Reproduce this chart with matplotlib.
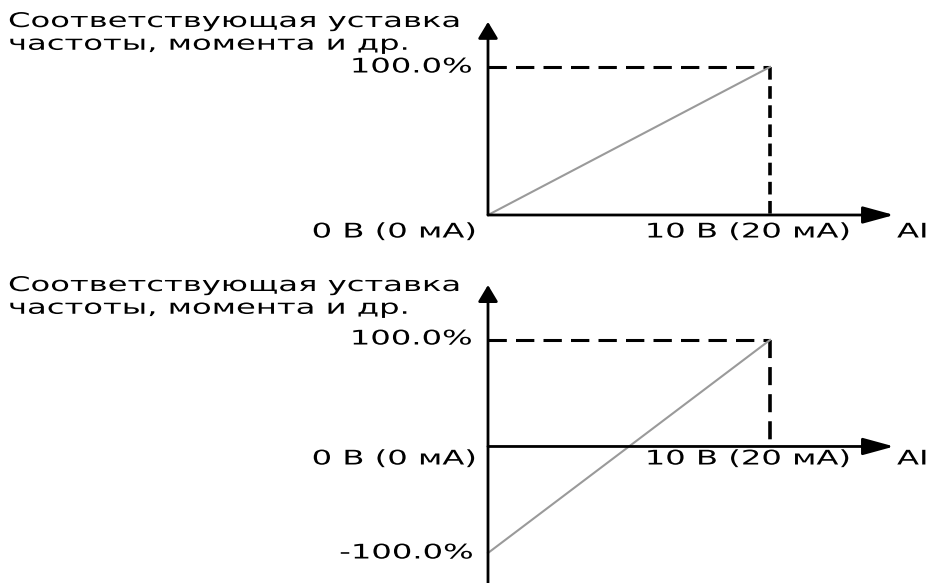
import matplotlib.pyplot as plt
from matplotlib.patheffects import AbstractPathEffect
from matplotlib.transforms import Affine2D

# input AI (0..10 V) vs. setpoint (%)
ai_in = [0, 10]
set_top = [0, 100]
set_bottom = [-100, 100]

title_text = 'Соответствующая уставка\nчастоты, момента и др.'
lbl_zero = '0 В (0 мА)'
lbl_max = '10 В (20 мА)'
lbl_axis = 'AI'

plt.rcParams['font.family'] = ['DejaVu Sans']
FS = 14.5
SX = 1.6   # the source picture has horizontally stretched lettering

fig = plt.figure(figsize=(9.31, 5.83), dpi=100)
W, H = 931, 583


class StretchX(AbstractPathEffect):
    """widen glyphs around a fixed pixel x"""

    def __init__(self, x0, sx):
        super().__init__()
        self.x0 = x0
        self.sx = sx

    def draw_path(self, renderer, gc, tpath, affine, rgbFace=None):
        tr = affine + Affine2D().translate(-self.x0, 0).scale(self.sx, 1).translate(self.x0, 0)
        renderer.draw_path(gc, tpath, tr, rgbFace)


def put_text(s, px, py, ha, va='center', **kw):
    fig.text(px / W, 1 - py / H, s, ha=ha, va=va, fontsize=FS,
             path_effects=[StretchX(px, SX)], **kw)


def make_axes(px_left, px_right, px_top, px_bottom, xlim, ylim):
    ax = fig.add_axes([px_left / W, 1 - px_bottom / H,
                       (px_right - px_left) / W, (px_bottom - px_top) / H])
    ax.set_xlim(*xlim)
    ax.set_ylim(*ylim)
    ax.axis('off')
    return ax


def axis_arrow(ax, start, end, style):
    ax.annotate('', xy=end, xytext=start,
                arrowprops=dict(arrowstyle=style, color='black', lw=2,
                                shrinkA=0, shrinkB=0),
                annotation_clip=False)


def draw(ax, ys, ytip, ybot, vdash):
    axis_arrow(ax, (0, ybot), (0, ytip), '-|>,head_length=1.0,head_width=0.6')
    axis_arrow(ax, (0, 0), (14.4, 0), '-|>,head_length=1.9,head_width=0.52')
    ax.plot([0, ai_in[1]], [ys[1], ys[1]], color='black', lw=2.2,
            ls=(0, (6, 3)), clip_on=False)
    ax.plot([ai_in[1], ai_in[1]], [ys[1], 0], color='black', lw=2.6,
            ls=vdash, clip_on=False)
    ax.plot(ai_in, ys, color='#9a9a9a', lw=1.5, clip_on=False)


# top diagram
ax1 = make_axes(488, 911, 15.2, 215, (0, 15), (0, 135))
draw(ax1, set_top, 130.5, 0, (0, (3.5, 1.8)))
put_text('100.0%', 473, 67, 'right')
put_text(lbl_zero, 477, 232, 'right')
put_text(lbl_max, 748, 232, 'center')
put_text(lbl_axis, 897, 232, 'left')

# bottom diagram
ax2 = make_axes(488, 911, 284.6, 582.8, (0, 15), (-128, 152))
draw(ax2, set_bottom, 151.6, -128, (0, (5, 2.5)))
put_text('100.0%', 473, 339, 'right')
put_text('-100.0%', 474, 553, 'right')
put_text(lbl_zero, 477, 459, 'right')
put_text(lbl_max, 748, 459, 'center')
put_text(lbl_axis, 897, 459, 'left')

put_text(title_text, 8, 12, 'left', va='top', linespacing=1.25)
put_text(title_text, 8, 276, 'left', va='top', linespacing=1.25)

fig.savefig('out.png', dpi=100)
